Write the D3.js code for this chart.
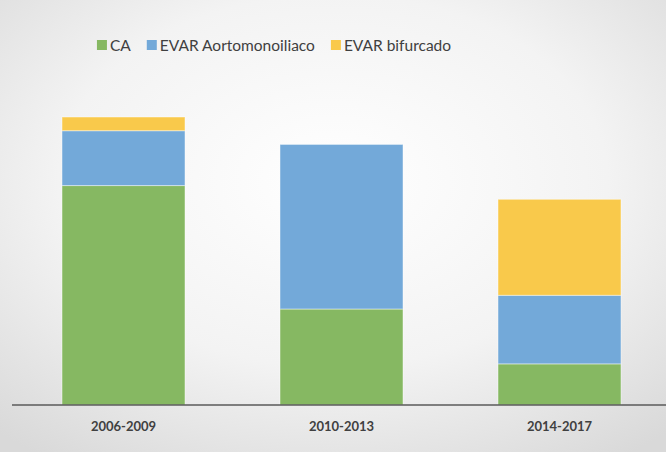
<!DOCTYPE html>
<html>
<head>
<meta charset="utf-8">
<script src="https://cdn.jsdelivr.net/npm/d3@7"></script>
<style>
  html, body { margin: 0; padding: 0; }
  svg { display: block; }
</style>
</head>
<body>
<svg id="chart" width="666" height="452"></svg>
<script>
// periods on the x axis
const periods = ['2006-2009', '2010-2013', '2014-2017'];
// series (stack order bottom -> top)
const seriesNames = ['CA', 'EVAR Aortomonoiliaco', 'EVAR bifurcado'];
const caValues = [16, 7, 3];
const aortoValues = [4, 12, 5];
const bifurcValues = [1, 0, 7];
const seriesColors = ['#86b862', '#73a9d9', '#f9c94b'];

const svg = d3.select('#chart');
const width = 666, height = 452;
const fontFam = 'Lato, "DejaVu Sans Condensed", sans-serif';

// background with soft radial shading
const defs = svg.append('defs');
const grad = defs.append('radialGradient')
    .attr('id', 'bg')
    .attr('cx', '50%').attr('cy', '40%').attr('r', '75%');
grad.append('stop').attr('offset', '0%').attr('stop-color', '#ffffff');
grad.append('stop').attr('offset', '55%').attr('stop-color', '#f3f3f3');
grad.append('stop').attr('offset', '100%').attr('stop-color', '#d9d9d9');
svg.append('rect')
    .attr('width', width).attr('height', height)
    .attr('fill', 'url(#bg)');

const table = periods.map((p, i) => ({
    period: p,
    'CA': caValues[i],
    'EVAR Aortomonoiliaco': aortoValues[i],
    'EVAR bifurcado': bifurcValues[i]
}));

const stack = d3.stack().keys(seriesNames);
const layers = stack(table);

const x = d3.scaleBand()
    .domain(periods)
    .range([14.5, 668.5])
    .paddingInner(0.4358)
    .paddingOuter(0.2179);

const y = d3.scaleLinear()
    .domain([0, 21])
    .range([405, 117]);

const color = d3.scaleOrdinal().domain(seriesNames).range(seriesColors);

svg.append('g')
  .selectAll('g')
  .data(layers)
  .enter()
  .append('g')
    .attr('fill', d => color(d.key))
  .selectAll('rect')
  .data(d => d.filter(v => v[1] > v[0]))
  .enter()
  .append('rect')
    .attr('x', d => x(d.data.period))
    .attr('y', d => y(d[1]))
    .attr('width', x.bandwidth())
    .attr('height', d => y(d[0]) - y(d[1]))
    .attr('stroke', 'rgba(255,255,255,0.45)')
    .attr('stroke-width', 1);

// x axis
const xAxis = svg.append('g')
    .attr('transform', 'translate(0,405)')
    .call(d3.axisBottom(x).tickSize(0).tickPadding(17));
xAxis.select('.domain')
    .attr('d', 'M12,0H666')
    .attr('stroke', '#5a5a5a')
    .attr('stroke-width', 1.5);
xAxis.selectAll('text')
    .attr('font-family', fontFam)
    .attr('font-weight', 'bold')
    .attr('font-size', 13)
    .attr('fill', '#404040');

// legend, laid out left to right from measured text widths
const legend = svg.append('g');
let cx = 0;
seriesNames.forEach((name, i) => {
    const g = legend.append('g').attr('transform', `translate(${cx},0)`);
    g.append('rect')
        .attr('x', 0).attr('y', 40)
        .attr('width', 10).attr('height', 10)
        .attr('fill', color(name));
    const t = g.append('text')
        .attr('x', 13).attr('y', 51)
        .attr('font-family', fontFam)
        .attr('font-size', 15.5)
        .attr('fill', '#404040')
        .text(name);
    cx += 13 + t.node().getComputedTextLength() + 16;
});
const legendWidth = cx - 16;
legend.attr('transform', `translate(${274 - legendWidth / 2},0)`);
</script>
</body>
</html>
